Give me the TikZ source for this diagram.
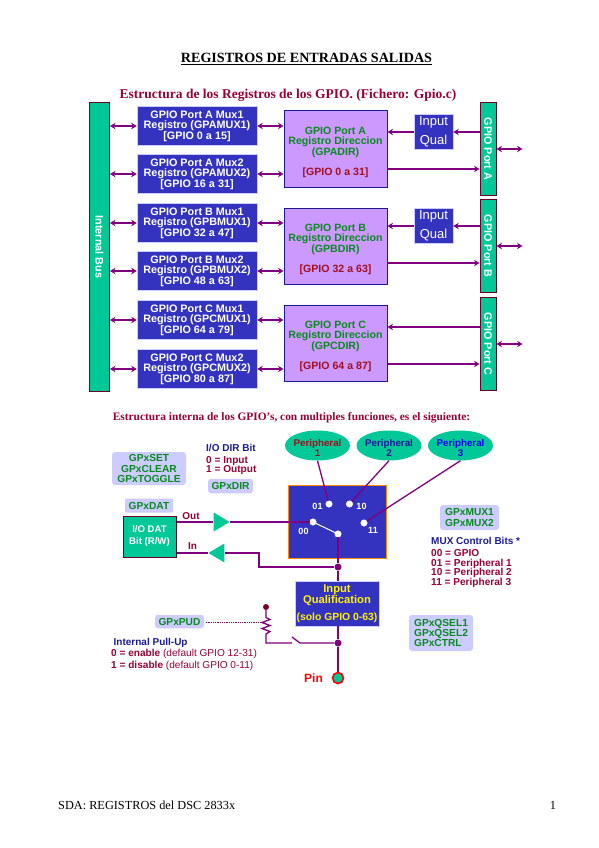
\documentclass[tikz,border=0pt]{standalone}
\usepackage{fontspec}
\setmainfont{Liberation Serif}
\newfontfamily\arialfont{Liberation Sans}
\usepackage{xcolor}
\usetikzlibrary{shapes.geometric, arrows.meta, positioning, calc}

\definecolor{boxblue}{HTML}{3333BF}
\definecolor{busgreen}{HTML}{00C896}
\definecolor{dirviolet}{HTML}{CC99FF}
\definecolor{softblue}{HTML}{CCCCFF}
\definecolor{wirepurple}{HTML}{800080}
\definecolor{darkred}{HTML}{990033}
\definecolor{regred}{HTML}{A01020}
\definecolor{labgreen}{HTML}{0A8A1E}
\definecolor{labnavy}{HTML}{1A1A99}

\newcommand{\sz}[2]{\fontsize{#1}{#2}\selectfont}

\begin{document}
\begin{tikzpicture}[x=1pt, y=-1pt]
  \useasboundingbox (0,0) rectangle (599,848);

  \tikzset{
    muxbox/.style={rectangle, fill=boxblue, draw=softblue, line width=0.6pt, minimum width=120pt,
      minimum height=39pt, inner sep=0pt, text=white, align=center, font=\arialfont\bfseries\sz{10.8}{10.5}},
    dirbox/.style={rectangle, fill=dirviolet, draw=labnavy, line width=1pt, minimum width=103pt, minimum height=76pt},
    dirtext/.style={inner sep=0pt, align=center, text=labgreen, font=\arialfont\bfseries\sz{10.6}{10.5}},
    qualbox/.style={rectangle, fill=boxblue, draw=softblue, line width=0.6pt, minimum width=39pt, minimum height=35.5pt,
      inner sep=0pt, text=white, align=center, font=\arialfont\sz{13}{19}},
    barbox/.style={rectangle, fill=busgreen, draw=darkred!70!black, line width=1pt, inner sep=0pt,
      text=white, font=\arialfont\bfseries\sz{10.8}{11}},
    softbox/.style={rectangle, rounded corners=3pt, fill=softblue, inner sep=0pt, align=center,
      text=labgreen, font=\arialfont\bfseries\sz{10.2}{10.2}},
    perbox/.style={ellipse, fill=busgreen, minimum width=65pt, minimum height=30pt, inner sep=0pt},
    pertext/.style={inner sep=0pt, align=center, font=\arialfont\bfseries\sz{9.8}{9.2}},
    seldot/.style={circle, fill=white, draw=white, inner sep=0pt, minimum size=6.5pt},
    joint/.style={circle, fill=wirepurple, inner sep=0pt, minimum size=7pt},
    muxnum/.style={inner sep=0pt, text=white, font=\arialfont\bfseries\sz{9}{9}},
    note/.style={inner sep=0pt, anchor=west, align=left, text=darkred, font=\arialfont\bfseries\sz{10.1}{9.9}},
    notehead/.style={inner sep=0pt, anchor=west, text=labnavy, font=\arialfont\bfseries\sz{10}{10}},
    wire/.style={draw=wirepurple, line width=1.3pt},
    bidir/.style={wire, {Stealth[length=5.5pt,width=6.5pt]}-{Stealth[length=5.5pt,width=6.5pt]}},
    onedir/.style={wire, -{Stealth[length=5.5pt,width=6.5pt]}},
    buffer/.style={isosceles triangle, isosceles triangle stretches, fill=busgreen, inner sep=0pt,
      minimum height=16pt, minimum width=19pt}
  }

  %% Titles
  \node[inner sep=0pt, font=\bfseries\sz{14.1}{16}] (title) at (306.5,59) {\underline{REGISTROS DE ENTRADAS SALIDAS}};
  \node[inner sep=0pt, text=darkred, font=\bfseries\sz{13.5}{15}] (subtitleA) at (288,95)
    {Estructura de los Registros de los GPIO. (Fichero: Gpio.c)};
  \node[inner sep=0pt, text=darkred, font=\bfseries\sz{11.4}{13}] (subtitleB) at (291.5,418)
    {Estructura interna de los GPIO's, con multiples funciones, es el siguiente:};

  %% Internal bus and port bars
  \node[barbox, minimum width=20pt, minimum height=288pt] (bus) at (99.5,247) {\rotatebox{-90}{Internal Bus}};
  \foreach \nm/\yc/\ln in {barA/149/A, barB/246/B, barC/344/C}{
    \node[barbox, minimum width=16pt, minimum height=93pt] (\nm) at (488,\yc) {\rotatebox{-90}{GPIO Port \ln}};
  }

  %% Mux registers
  \foreach \nm/\yc/\la/\lb/\lc in {
    muxAa/126/GPIO Port A Mux1/Registro (GPAMUX1)/[GPIO 0 a 15],
    muxAb/174/GPIO Port A Mux2/Registro (GPAMUX2)/[GPIO 16 a 31],
    muxBa/223/GPIO Port B Mux1/Registro (GPBMUX1)/[GPIO 32 a 47],
    muxBb/271/GPIO Port B Mux2/Registro (GPBMUX2)/[GPIO 48 a 63],
    muxCa/320/GPIO Port C Mux1/Registro (GPCMUX1)/[GPIO 64 a 79],
    muxCb/369/GPIO Port C Mux2/Registro (GPCMUX2)/[GPIO 80 a 87]}{
    \node[muxbox] (\nm) at (197,\yc) {\la\\\lb\\{}\lc};
  }

  %% Direction registers
  \foreach \nm/\yc/\ln/\lr/\lg in {
    dirA/149/A/GPADIR/GPIO 0 a 31,
    dirB/246/B/GPBDIR/GPIO 32 a 63,
    dirC/343/C/GPCDIR/GPIO 64 a 87}{
    \node[dirbox] (\nm) at (335.5,\yc) {};
    \node[dirtext] at ([yshift=-3.2pt]\nm.center)
      {GPIO Port \ln\\Registro Direccion\\(\lr)\\[9.6pt]\textcolor{regred}{[\lg]}};
  }

  %% Arrows on both sides of the mux registers
  \foreach \nm/\dr in {muxAa/dirA, muxAb/dirA, muxBa/dirB, muxBb/dirB, muxCa/dirC, muxCb/dirC}{
    \draw[bidir] (bus.east |- \nm.west) -- (\nm.west);
    \draw[bidir] (\nm.east) -- (\dr.west |- \nm.east);
  }

  %% Input qualification of ports A and B
  \node[qualbox] (qualA) at (433.5,132) {Input\\Qual};
  \node[qualbox] (qualB) at (433.5,226) {Input\\Qual};
  \coordinate (inC) at (480,327);
  \draw[onedir] (qualA.west) -- (dirA.east |- qualA.west);
  \draw[onedir] (barA.west |- qualA.east) -- (qualA.east);
  \draw[onedir] (qualB.west) -- (dirB.east |- qualB.west);
  \draw[onedir] (barB.west |- qualB.east) -- (qualB.east);
  \draw[onedir] (inC) -- (dirC.east |- inC);

  %% Direction register to port bar, port bar to the outside
  \foreach \dr/\br/\yo in {dirA/barA/169, dirB/barB/263, dirC/barC/364}{
    \coordinate (o\dr) at (387,\yo);
    \draw[onedir] (o\dr) -- (\br.west |- o\dr);
    \coordinate (x\br) at (522.5,0 |- \br.east);
    \draw[bidir] (\br.east) -- (x\br);
  }

  %% Peripherals
  \node[perbox] (perA) at (317.5,445.5) {};
  \node[perbox] (perB) at (389,445.5) {};
  \node[perbox] (perC) at (460.5,445.5) {};
  \node[pertext, text=regred] at ([yshift=-2.5pt]perA.center) {Peripheral\\1};
  \node[pertext, text=labnavy] at ([yshift=-2.5pt]perB.center) {Peripheral\\2};
  \node[pertext, text=blue] at ([yshift=-2.5pt]perC.center) {Peripheral\\3};

  %% Mux switch
  \node[rectangle, fill=boxblue, draw=orange!90!yellow, line width=1pt, minimum width=98pt, minimum height=73pt] (muxsw) at (337,521.5) {};
  \node[seldot] (selA) at (329,504) {};
  \node[seldot] (selB) at (349.5,504) {};
  \node[seldot] (selC) at (364,523) {};
  \node[seldot] (selZ) at (313,522) {};
  \node[seldot] (selO) at (338,534) {};
  \node[muxnum] at (317.5,506.5) {01};
  \node[muxnum] at (361.5,506.5) {10};
  \node[muxnum] at (373,530.5) {11};
  \node[muxnum] at (303.5,531) {00};
  \draw[white, line width=1pt] (selZ) -- (selO);
  \draw[wire] (perA.south) -- (selA);
  \draw[wire] (perB.south) -- (selB);
  \draw[wire] (perC.south) -- (selC);

  %% Data register and buffers
  \node[rectangle, fill=busgreen, draw=darkred!70!black, line width=1pt, minimum width=53pt, minimum height=41pt,
    inner sep=0pt, align=center, text=white, font=\arialfont\bfseries\sz{9.6}{12}] (datbox) at (149.5,536.5) {I/O DAT\\Bit (R/W)};
  \node[buffer] (bufout) at (219,522) {};
  \node[buffer, shape border rotate=180] (bufin) at (219,553) {};
  \draw[wire] (datbox.east |- bufout.center) -- (bufout.lower side);
  \draw[wire] (bufout.apex) -- (selZ);
  \draw[wire] (datbox.east |- bufin.center) -- (bufin.apex);

  %% Input qualification and pin
  \node[rectangle, fill=boxblue, draw=softblue, line width=0.6pt, minimum width=84pt, minimum height=45pt, inner sep=0pt,
    align=center, text=yellow, font=\arialfont\bfseries\sz{11.2}{10.5}] (iqual) at (337,603.5)
    {Input\\Qualification\\[6.5pt]{\sz{10.4}{10}(solo GPIO 0-63)}};
  \node[joint] (jointmux) at (338,567) {};
  \node[joint] (jointpin) at (338,643) {};
  \node[circle, fill=busgreen, draw=red, line width=1.6pt, minimum size=11pt, inner sep=0pt] (pin) at (338,678) {};
  \node[inner sep=0pt, text=red, font=\arialfont\bfseries\sz{12}{12}] (pinlabel) at (313.5,678) {Pin};
  \draw[wire] (selO) -- (jointmux);
  \draw[wire] (jointmux) -- (iqual.north -| jointmux);
  \draw[wire] (iqual.south -| jointpin) -- (jointpin);
  \draw[wire] (jointpin) -- (pin);
  \draw[wire] (bufin.lower side) -- (259,553) -- (259,567) -- (jointmux);

  %% Pull-up
  \node[circle, fill=darkred!80!black, inner sep=0pt, minimum size=6pt] (pudtop) at (266,607) {};
  \coordinate (swleft) at (292,643);
  \coordinate (swblade) at (292,637);
  \coordinate (swright) at (300,643);
  \draw[wire] (pudtop) -- (266,617.5) -- (270,619.5) -- (262,622.5) -- (270,625.5) -- (262,628.5) -- (270,631.5) -- (266,634) -- (266,643) -- (swleft);
  \draw[wire] (swblade) -- (swright) -- (jointpin);
  \node[softbox, minimum width=49pt, minimum height=13.5pt] (pudbox) at (179.5,621.5) {GPxPUD};
  \coordinate (pudend) at (263,622.5);
  \draw[wirepurple, densely dotted, line width=0.8pt] (pudbox.east) ++(1.5,1) -- (pudend);

  %% Register name boxes
  \node[softbox, minimum width=74pt, minimum height=33pt] (setbox) at (149,468.5) {GPxSET\\GPxCLEAR\\GPxTOGGLE};
  \node[softbox, minimum width=45pt, minimum height=14.5pt] (dirname) at (230.5,486) {GPxDIR};
  \node[softbox, rounded corners=1pt, minimum width=48pt, minimum height=14pt] (datname) at (149,505.5) {GPxDAT};
  \node[softbox, minimum width=59pt, minimum height=25pt] (muxname) at (469.5,517.5) {GPxMUX1\\GPxMUX2};
  \node[softbox, align=left, minimum width=64pt, minimum height=36pt] (qselname) at (441,633) {GPxQSEL1\\GPxQSEL2\\GPxCTRL};

  %% Notes
  \node[notehead] (dirhead) at (206,447.5) {I/O DIR Bit};
  \node[note] (dirnote) at (206,465.5) {0 = Input\\1 = Output};
  \node[inner sep=0pt, text=darkred, font=\arialfont\bfseries\sz{10}{10}] (outlabel) at (191,516) {Out};
  \node[inner sep=0pt, text=darkred, font=\arialfont\bfseries\sz{10}{10}] (inlabel) at (192.5,546) {In};
  \node[notehead] (muxhead) at (431,540.5) {MUX Control Bits *};
  \node[note] (muxnote) at (431,568.5) {00 = GPIO\\01 = Peripheral 1\\10 = Peripheral 2\\11 = Peripheral 3};
  \node[notehead] (pudhead) at (113.5,642.5) {Internal Pull-Up};
  \node[note] (pudnote) at (111,660) {0 = enable {\mdseries (default GPIO 12-31)}\\[1.5pt]1 = disable {\mdseries (default GPIO 0-11)}};

  %% Footer
  \node[inner sep=0pt, anchor=west, font=\sz{12.3}{14}] (footer) at (58,805) {SDA: REGISTROS del DSC 2833x};
  \node[inner sep=0pt, font=\sz{12.3}{14}] (pagenum) at (553,805) {1};

\end{tikzpicture}
\end{document}
